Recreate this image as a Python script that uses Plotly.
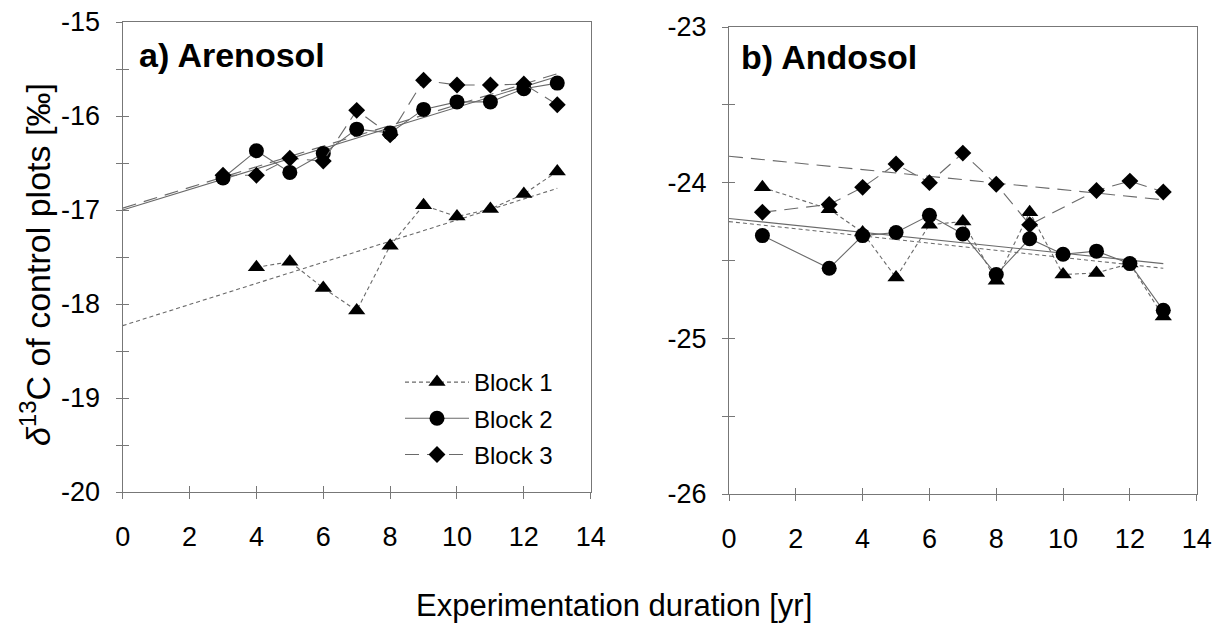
import plotly.graph_objects as go

# ---------------- data ----------------
are_years_b1 = [4, 5, 6, 7, 8, 9, 10, 11, 12, 13]
are_b1 = [-17.61, -17.55, -17.83, -18.07, -17.38, -16.95, -17.07, -16.99, -16.83, -16.59]
are_years = [3, 4, 5, 6, 7, 8, 9, 10, 11, 12, 13]
are_b2 = [-16.66, -16.37, -16.60, -16.40, -16.14, -16.18, -15.93, -15.85, -15.85, -15.71, -15.65]
are_b3 = [-16.63, -16.63, -16.45, -16.48, -15.94, -16.20, -15.62, -15.67, -15.67, -15.66, -15.88]

and_years = [1, 3, 4, 5, 6, 7, 8, 9, 10, 11, 12, 13]
and_b1 = [-24.03, -24.17, -24.32, -24.61, -24.27, -24.25, -24.63, -24.19, -24.59, -24.58, -24.52, -24.86]
and_b2 = [-24.34, -24.55, -24.34, -24.32, -24.21, -24.33, -24.59, -24.36, -24.46, -24.44, -24.52, -24.82]
and_years_b3 = [1, 3, 4, 5, 6, 7, 8, 9, 11, 12, 13]
and_b3 = [-24.19, -24.14, -24.03, -23.88, -24.00, -23.81, -24.01, -24.27, -24.05, -23.99, -24.06]

# regression lines (values at start and end of fitted span)
fit_x = [0, 13]
are_fit_b1 = [-18.23, -16.77]
are_fit_b2 = [-17.00, -15.58]
are_fit_b3 = [-16.98, -15.55]
and_fit_b1 = [-24.25, -24.55]
and_fit_b2 = [-24.23, -24.52]
and_fit_b3 = [-23.83, -24.11]

block_names = ["Block 1", "Block 2", "Block 3"]
x_ticks = [0, 2, 4, 6, 8, 10, 12, 14]
are_y_ticks = [-20, -19, -18, -17, -16, -15]
and_y_ticks = [-26, -25, -24, -23]

# ---------------- styles ----------------
FONT = "Liberation Sans, Arial, sans-serif"
LINE_C = "#6a6a6a"
AX_C = "#777777"
dashes = ["4px,3px", "solid", "14px,8px"]
symbols = ["triangle-up", "circle", "diamond"]
msizes = [15, 15, 13]

fig = go.Figure()

def add_panel(xs_list, ys_list, fits, xa, ya, legend):
    for i in range(3):
        fig.add_trace(go.Scatter(
            x=fit_x, y=fits[i], mode="lines", xaxis=xa, yaxis=ya,
            line=dict(color=LINE_C, width=1.1, dash=dashes[i]),
            showlegend=False, hoverinfo="skip"))
    for i in range(3):
        fig.add_trace(go.Scatter(
            x=xs_list[i], y=ys_list[i], mode="lines+markers", xaxis=xa, yaxis=ya,
            name=block_names[i], legendgroup=block_names[i],
            line=dict(color=LINE_C, width=1.1, dash=dashes[i]),
            marker=dict(symbol=symbols[i], size=msizes[i], color="black",
                        line=dict(width=0)),
            showlegend=legend))

add_panel([are_years_b1, are_years, are_years], [are_b1, are_b2, are_b3],
          [are_fit_b1, are_fit_b2, are_fit_b3], "x", "y", True)
add_panel([and_years, and_years, and_years_b3], [and_b1, and_b2, and_b3],
          [and_fit_b1, and_fit_b2, and_fit_b3], "x2", "y2", False)

# invisible traces for overlay (inside tick) axes
fig.add_trace(go.Scatter(x=[], y=[], xaxis="x3", yaxis="y3", showlegend=False))
fig.add_trace(go.Scatter(x=[], y=[], xaxis="x4", yaxis="y4", showlegend=False))

# page body has an 8px margin: figure sized to fit, positions given in screen px
OFF = 8
W, H = 1227 - 2 * OFF, 635 - 2 * OFF

def px(x):
    return (x - OFF) / W

def py(y):
    return 1 - (y - OFF) / H

L_dom = [px(122.7), px(590.7)]
R_dom = [px(729.0), px(1196.7)]
L_ydom = [py(492), py(22)]
R_ydom = [py(494), py(27)]

tickfont = dict(family=FONT, size=27, color="black")

def xaxis(dom, anchor):
    return dict(domain=dom, anchor=anchor, range=[0, 14], tickvals=x_ticks,
                ticktext=[str(v) for v in x_ticks], ticks="outside", ticklen=6,
                tickcolor=AX_C, showline=True, linecolor=AX_C, linewidth=1.3,
                mirror=True, showgrid=False, zeroline=False, tickfont=tickfont,
                ticklabelstandoff=14, automargin=False, ticklabeloverflow="allow")

def yaxis(dom, anchor, rng, tv):
    return dict(domain=dom, anchor=anchor, range=rng, tickvals=tv,
                ticktext=["-" + str(abs(v)) for v in tv], ticks="outside", ticklen=6,
                tickcolor=AX_C, showline=True, linecolor=AX_C, linewidth=1.3,
                mirror=True, showgrid=False, zeroline=False, tickfont=tickfont,
                ticklabelstandoff=10, automargin=False, ticklabeloverflow="allow",
                minor=dict(dtick=0.5, ticks="outside", ticklen=6, tickcolor=AX_C))

def over_x(over, anchor):
    return dict(overlaying=over, anchor=anchor, range=[0, 14], tickvals=x_ticks,
                ticks="inside", ticklen=6, tickcolor=AX_C, showticklabels=False,
                showline=False, showgrid=False, zeroline=False, automargin=False)

def over_y(over, anchor, rng, tv):
    return dict(overlaying=over, anchor=anchor, range=rng, tickvals=tv,
                ticks="inside", ticklen=6, tickcolor=AX_C, showticklabels=False,
                showline=False, showgrid=False, zeroline=False, automargin=False,
                minor=dict(dtick=0.5, ticks="inside", ticklen=6, tickcolor=AX_C))

fig.update_layout(
    template="none",
    width=W, height=H,
    margin=dict(l=0, r=0, t=0, b=0, autoexpand=False),
    paper_bgcolor="white", plot_bgcolor="white",
    font=dict(family=FONT, color="black"),
    xaxis=xaxis(L_dom, "y"),
    yaxis=yaxis(L_ydom, "x", [-20, -15], are_y_ticks),
    xaxis2=xaxis(R_dom, "y2"),
    yaxis2=yaxis(R_ydom, "x2", [-26, -23], and_y_ticks),
    xaxis3=over_x("x", "y"),
    yaxis3=over_y("y", "x", [-20, -15], are_y_ticks),
    xaxis4=over_x("x2", "y2"),
    yaxis4=over_y("y2", "x2", [-26, -23], and_y_ticks),
    legend=dict(x=px(400), y=py(360), xanchor="left", yanchor="top",
                bgcolor="rgba(0,0,0,0)", font=dict(family=FONT, size=24),
                itemwidth=64, tracegroupgap=2, traceorder="grouped"),
    showlegend=True,
    annotations=[
        dict(text="<b>a) Arenosol</b>", x=px(136.7), y=py(55), xref="paper",
             yref="paper", xanchor="left", yanchor="middle", showarrow=False,
             font=dict(family=FONT, size=34)),
        dict(text="<b>b) Andosol</b>", x=px(739.3), y=py(57), xref="paper",
             yref="paper", xanchor="left", yanchor="middle", showarrow=False,
             font=dict(family=FONT, size=34)),
        dict(text="Experimentation duration [yr]", x=px(614), y=py(605),
             xref="paper", yref="paper", xanchor="center", yanchor="middle",
             showarrow=False, font=dict(family=FONT, size=31)),
        dict(text="<i>δ</i><sup>13</sup>C of control plots [‰]", x=px(35),
             y=py(265), xref="paper", yref="paper", xanchor="center",
             yanchor="middle", textangle=-90, showarrow=False,
             font=dict(family=FONT, size=34)),
    ],
)

fig.write_html("out.html")
